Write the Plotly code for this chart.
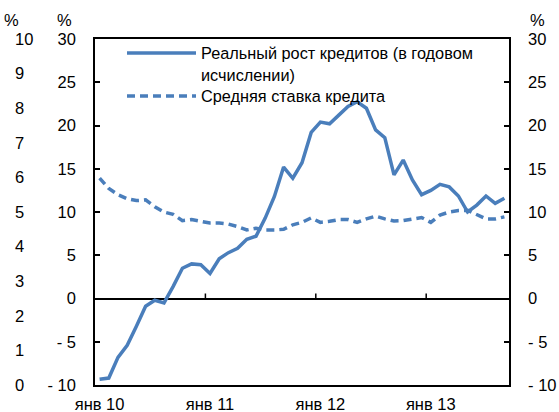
import plotly.graph_objects as go

OUTPUT_PATH = "out.html"

MONTHS = list(range(45))  # янв 10 .. сен 13, monthly
TICK_POSITIONS = [0, 12, 24, 36]
TICK_LABELS = ["янв 10", "янв 11", "янв 12", "янв 13"]
YEAR_BOUNDARIES = [11.5, 23.5, 35.5]

CREDIT_GROWTH = [
    -9.34, -9.2, -6.8, -5.4, -3.2, -0.9, -0.2, -0.5, 1.4, 3.5,
    4.0, 3.9, 2.9, 4.6, 5.3, 5.8, 6.85, 7.2, 9.3, 11.8,
    15.2, 13.9, 15.7, 19.2, 20.4, 20.2, 21.2, 22.2, 22.75, 22.0,
    19.5, 18.6, 14.3, 16.0, 13.7, 12.0, 12.5, 13.2, 12.9, 11.85,
    10.0, 10.8, 11.85, 11.0, 11.6,
]

LENDING_RATE = [
    5.98, 5.68, 5.5, 5.38, 5.33, 5.35, 5.15, 5.0, 4.93, 4.75,
    4.78, 4.73, 4.68, 4.68, 4.65, 4.58, 4.48, 4.53, 4.48, 4.48,
    4.5, 4.63, 4.7, 4.83, 4.7, 4.73, 4.78, 4.78, 4.7, 4.8,
    4.88, 4.8, 4.74, 4.75, 4.8, 4.84, 4.7, 4.91, 5.0, 5.04,
    5.05, 4.93, 4.8, 4.8, 4.86,
]

MAIN_TICKS = [-10, -5, 0, 5, 10, 15, 20, 25, 30]
MAIN_TICK_TEXT = ["- 10", "- 5", "0", "5", "10", "15", "20", "25", "30"]
RATE_TICKS = list(range(0, 11))

BLUE = "#4A7EBB"
FONT = "Liberation Sans, Arial, sans-serif"

FIG_W, FIG_H = 559, 412
MARGIN_L, MARGIN_R, MARGIN_T, MARGIN_B = 2, 50, 39, 27
PAPER_W = FIG_W - MARGIN_L - MARGIN_R
PAPER_H = FIG_H - MARGIN_T - MARGIN_B

# drop the default 8px body margin so the figure sits in the window corner
NO_BODY_MARGIN = "document.body.style.margin = '0';"


def px_x(x):
    # window pixel -> paper fraction
    return (x - MARGIN_L) / PAPER_W


def px_y(y):
    return 1 - (y - MARGIN_T) / PAPER_H


def build_figure():
    fig = go.Figure()
    fig.add_trace(
        go.Scatter(
            x=MONTHS,
            y=CREDIT_GROWTH,
            mode="lines",
            name="Реальный рост кредитов (в годовом<br>исчислении)",
            line={"color": BLUE, "width": 3.5},
            xaxis="x",
            yaxis="y",
            legend="legend",
        )
    )
    fig.add_trace(
        go.Scatter(
            x=MONTHS,
            y=LENDING_RATE,
            mode="lines",
            name="Средняя ставка кредита",
            line={"color": BLUE, "width": 3.5, "dash": "8px,5px"},
            xaxis="x",
            yaxis="y3",
            legend="legend2",
        )
    )
    # invisible copy so the right-hand axis gets drawn
    fig.add_trace(
        go.Scatter(
            x=MONTHS,
            y=CREDIT_GROWTH,
            mode="lines",
            line={"width": 0},
            opacity=0,
            showlegend=False,
            hoverinfo="skip",
            xaxis="x",
            yaxis="y2",
        )
    )

    tick_font = {"family": FONT, "size": 16.5, "color": "black"}
    legend_font = {"family": FONT, "size": 16.3, "color": "black"}
    legend_common = {
        "x": px_x(122),
        "xanchor": "left",
        "yanchor": "top",
        "valign": "top",
        "bgcolor": "rgba(0,0,0,0)",
        "font": legend_font,
        "itemwidth": 69,
    }
    frame = {
        "showline": True,
        "linecolor": "black",
        "linewidth": 1.5,
        "showgrid": False,
        "zeroline": False,
        "automargin": False,
    }
    inner_ticks = {
        "ticks": "inside",
        "ticklen": 5,
        "tickwidth": 1.5,
        "tickcolor": "black",
    }

    fig.update_layout(
        width=FIG_W,
        height=FIG_H,
        margin={"l": MARGIN_L, "r": MARGIN_R, "t": MARGIN_T, "b": MARGIN_B},
        paper_bgcolor="white",
        plot_bgcolor="white",
        font=tick_font,
        showlegend=True,
        legend={**legend_common, "y": px_y(36)},
        legend2={**legend_common, "y": px_y(79)},
        xaxis={
            **frame,
            "domain": [px_x(95), 1],
            "anchor": "y",
            "range": [-0.5, 44.5],
            "tickvals": TICK_POSITIONS,
            "ticktext": TICK_LABELS,
            "ticks": "",
            "mirror": True,
            "ticklabelstandoff": 3,
        },
        yaxis={
            **frame,
            **inner_ticks,
            "anchor": "x",
            "range": [-10, 30],
            "tickvals": MAIN_TICKS,
            "ticktext": MAIN_TICK_TEXT,
            "ticklabelstandoff": 14,
            "zeroline": True,
            "zerolinecolor": "black",
            "zerolinewidth": 1.5,
        },
        yaxis2={
            **frame,
            **inner_ticks,
            "overlaying": "y",
            "side": "right",
            "anchor": "x",
            "range": [-10, 30],
            "tickvals": MAIN_TICKS,
            "ticktext": MAIN_TICK_TEXT,
            "ticklabelstandoff": 14,
        },
        yaxis3={
            **frame,
            "showline": False,
            "overlaying": "y",
            "side": "right",
            "anchor": "free",
            "position": px_x(14),
            "range": [0, 10],
            "tickvals": RATE_TICKS,
            "ticks": "",
        },
    )

    # year boundary tick marks sitting on the zero line
    for boundary in YEAR_BOUNDARIES:
        fig.add_shape(
            type="line",
            xref="x",
            yref="y",
            x0=boundary,
            x1=boundary,
            ysizemode="pixel",
            yanchor=0,
            y0=0,
            y1=5,
            line={"color": "black", "width": 1.5},
        )

    # percent markers above each value axis
    for x_px in [11, 64, 537]:
        fig.add_annotation(
            x=px_x(x_px),
            y=px_y(20),
            xref="paper",
            yref="paper",
            xanchor="center",
            yanchor="middle",
            text="%",
            showarrow=False,
            font=tick_font,
        )
    return fig


fig = build_figure()
fig.write_html(
    OUTPUT_PATH,
    post_script=NO_BODY_MARGIN,
    config={"displayModeBar": False},
)
